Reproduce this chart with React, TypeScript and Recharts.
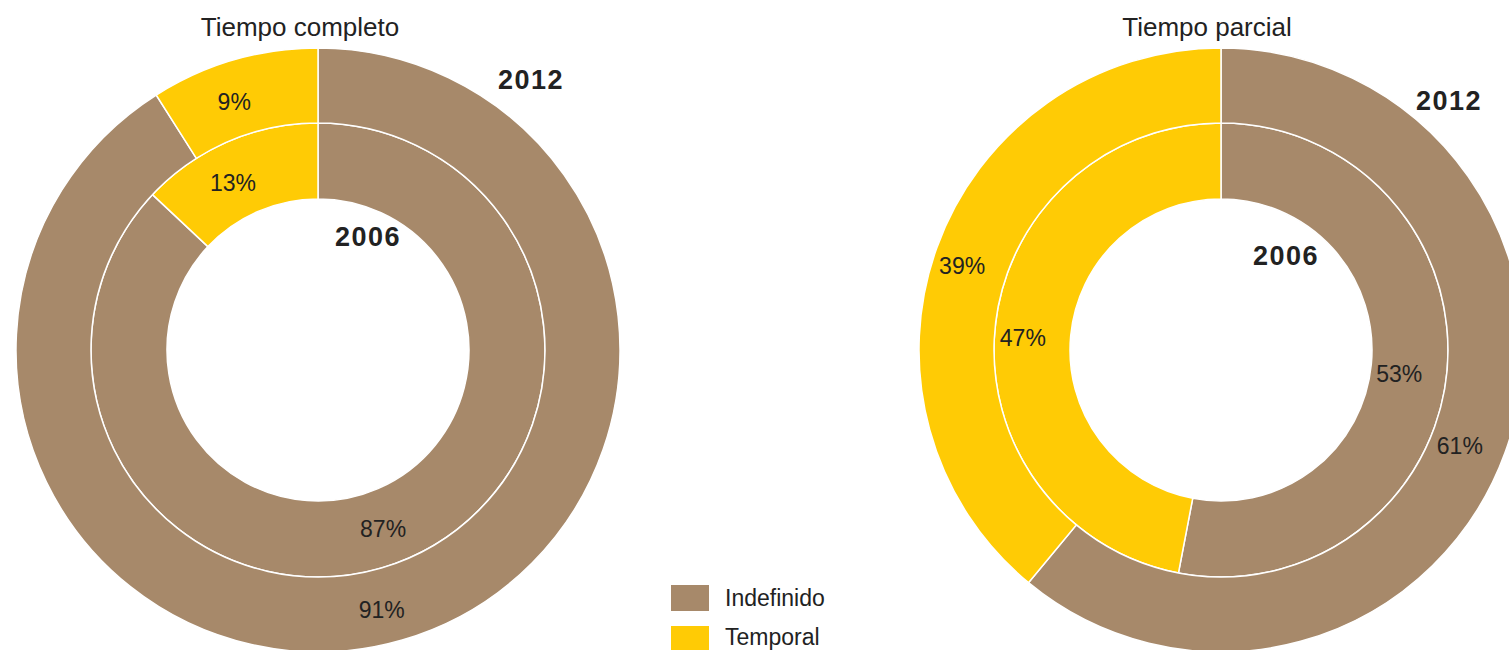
import React from 'react'
import { PieChart, Pie, Cell } from 'recharts'

// tipos de contrato
const categories = ['Indefinido', 'Temporal']
const colors = ['#A7896A', '#FFCB05']

// Tiempo completo
const completo2006 = [87, 13]
const completo2012 = [91, 9]
// Tiempo parcial
const parcial2006 = [53, 47]
const parcial2012 = [61, 39]

const FONT = '"Liberation Sans", Arial, sans-serif'
const RADIAN = Math.PI / 180

const toData = (values: number[]) =>
  values.map((value, i) => ({ name: categories[i], value }))

// labels sit a bit left/below the middle of each slice in the original
const renderLabel = (props: any) => {
  const { cx, cy, midAngle, innerRadius, outerRadius, value } = props
  const r = (innerRadius + outerRadius) / 2
  const x = cx + r * Math.cos(-midAngle * RADIAN) - 10
  const y = cy + r * Math.sin(-midAngle * RADIAN) + 6
  return (
    <text
      x={x}
      y={y}
      fill='#222'
      fontSize={23}
      fontFamily={FONT}
      textAnchor='middle'
      dominantBaseline='central'
    >
      {value}%
    </text>
  )
}

const Ring = ({ values, cx, inner, outer }: { values: number[]; cx: number; inner: number; outer: number }) => (
  <Pie
    data={toData(values)}
    dataKey='value'
    cx={cx}
    cy={350}
    innerRadius={inner}
    outerRadius={outer}
    startAngle={90}
    endAngle={-270}
    stroke='#fff'
    strokeWidth={1.5}
    label={renderLabel}
    labelLine={false}
    isAnimationActive={false}
  >
    {values.map((_, i) => (
      <Cell key={i} fill={colors[i]} />
    ))}
  </Pie>
)

const abs = (x: number, y: number, extra: React.CSSProperties = {}): React.CSSProperties => ({
  position: 'absolute',
  left: x,
  top: y,
  fontFamily: FONT,
  color: '#222',
  whiteSpace: 'nowrap',
  ...extra
})

const year = { fontSize: 27, fontWeight: 'bold' as const, letterSpacing: 1.5 }

export default function App() {
  return (
    <div style={{ position: 'absolute', top: 0, left: 0, width: 1509, height: 650, overflow: 'hidden', background: '#fff' }}>
      <PieChart width={1509} height={650} margin={{ top: 0, right: 0, bottom: 0, left: 0 }}>
        {Ring({ values: completo2006, cx: 318, inner: 151, outer: 227 })}
        {Ring({ values: completo2012, cx: 318, inner: 227, outer: 302 })}
        {Ring({ values: parcial2006, cx: 1221, inner: 151, outer: 227 })}
        {Ring({ values: parcial2012, cx: 1221, inner: 227, outer: 302 })}
      </PieChart>

      <div style={abs(300, 12, { fontSize: 26, transform: 'translateX(-50%)' })}>Tiempo completo</div>
      <div style={abs(1207, 12, { fontSize: 26, transform: 'translateX(-50%)' })}>Tiempo parcial</div>

      <div style={abs(498, 65, year)}>2012</div>
      <div style={abs(335, 222, year)}>2006</div>
      <div style={abs(1416, 86, year)}>2012</div>
      <div style={abs(1253, 241, year)}>2006</div>

      {categories.map((c, i) => (
        <React.Fragment key={c}>
          <div style={abs(671, 585 + i * 41, { width: 38, height: 26, background: colors[i] })} />
          <div style={abs(725, 585 + i * 39, { fontSize: 23, lineHeight: '26px' })}>{c}</div>
        </React.Fragment>
      ))}
    </div>
  )
}
